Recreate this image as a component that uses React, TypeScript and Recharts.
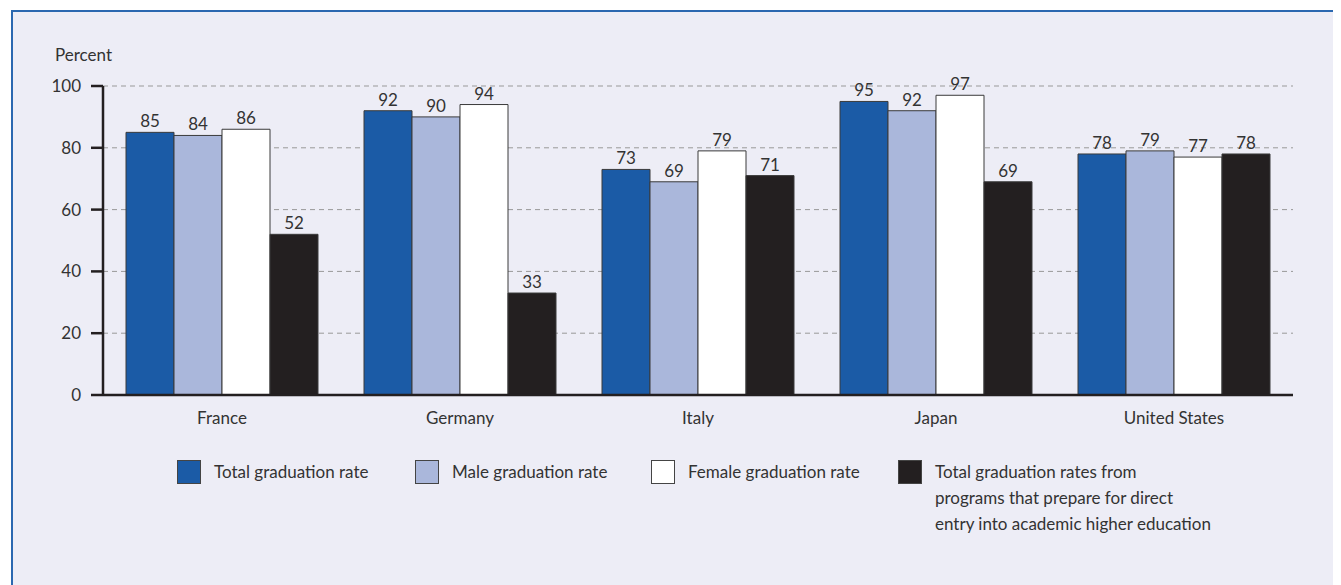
import React from "react";
import { BarChart, Bar, XAxis, YAxis, CartesianGrid, LabelList } from "recharts";

const countries = ["France", "Germany", "Italy", "Japan", "United States"];
const totalRate = [85, 92, 73, 95, 78];
const maleRate = [84, 90, 69, 92, 79];
const femaleRate = [86, 94, 79, 97, 77];
const academicRate = [52, 33, 71, 69, 78];
const yTicks = [0, 20, 40, 60, 80, 100];

const seriesInfo = [
  { key: "total", name: "Total graduation rate", color: "#1B5BA6" },
  { key: "male", name: "Male graduation rate", color: "#AAB7DB" },
  { key: "female", name: "Female graduation rate", color: "#FFFFFF" },
  {
    key: "academic",
    name: "Total graduation rates from programs that prepare for direct entry into academic higher education",
    color: "#231F20",
  },
];
const legendLines = [
  ["Total graduation rate"],
  ["Male graduation rate"],
  ["Female graduation rate"],
  ["Total graduation rates from", "programs that prepare for direct", "entry into academic higher education"],
];

const data = countries.map((c, i) => ({
  country: c,
  total: totalRate[i],
  male: maleRate[i],
  female: femaleRate[i],
  academic: academicRate[i],
}));

const FONT = "Lato, 'Open Sans', sans-serif";
const TEXT = "#333333";

const legendX = [164, 402, 638, 885];

const LegendBlock = () => (
  <div style={{ position: "absolute", left: 0, top: 448, width: 1300, height: 100 }}>
    {seriesInfo.map((s, i) => (
      <div key={s.key} style={{ position: "absolute", left: legendX[i], top: 0 }}>
        <div
          style={{
            position: "absolute",
            left: 0,
            top: 0,
            width: 22,
            height: 22,
            background: s.color,
            border: "1px solid #444",
          }}
        />
        <div
          style={{
            position: "absolute",
            left: 37,
            top: -1,
            whiteSpace: "nowrap",
            fontFamily: FONT,
            fontSize: 17,
            lineHeight: "26px",
            color: TEXT,
            textAlign: "left",
          }}
        >
          {legendLines[i].map((l, j) => (
            <div key={j}>{l}</div>
          ))}
        </div>
      </div>
    ))}
  </div>
);

const labelStyle = { fill: TEXT, fontFamily: FONT, fontSize: 17 };

export default function App() {
  return (
    <div
      style={{
        marginLeft: 3,
        marginTop: 2,
        width: 1330,
        height: 575,
        background: "#EDEDF6",
        borderTop: "2px solid #2B68B0",
        borderLeft: "2px solid #2B68B0",
        position: "relative",
        fontFamily: FONT,
      }}
    >
      <div
        style={{
          position: "absolute",
          left: 42,
          top: 32,
          fontSize: 17,
          color: TEXT,
          fontFamily: FONT,
        }}
      >
        Percent
      </div>
      <div style={{ position: "absolute", left: 0, top: 0 }}>
        <BarChart
          width={1320}
          height={423}
          data={data}
          margin={{ top: 74, right: 40, left: 60, bottom: 0 }}
          barCategoryGap={23}
          barGap={0}
        >
          <CartesianGrid vertical={false} stroke="#999999" strokeDasharray="5 4" />
          <XAxis
            dataKey="country"
            axisLine={{ stroke: "#231F20", strokeWidth: 2.5 }}
            tickLine={false}
            tick={{ fill: TEXT, fontFamily: FONT, fontSize: 17 }}
            tickMargin={11}
            height={40}
          />
          <YAxis
            domain={[0, 100]}
            ticks={yTicks}
            width={30}
            axisLine={{ stroke: "#231F20", strokeWidth: 2.5 }}
            tickLine={{ stroke: "#231F20", strokeWidth: 2.5 }}
            tickSize={12}
            tickMargin={10}
            tick={{ fill: TEXT, fontFamily: FONT, fontSize: 17 }}
          />
          {seriesInfo.map((s) => (
            <Bar
              key={s.key}
              dataKey={s.key}
              name={s.name}
              fill={s.color}
              stroke="#3A3A3A"
              strokeWidth={1}
              isAnimationActive={false}
            >
              <LabelList dataKey={s.key} position="top" offset={5} style={labelStyle} />
            </Bar>
          ))}
        </BarChart>
      </div>
      <LegendBlock />
    </div>
  );
}
